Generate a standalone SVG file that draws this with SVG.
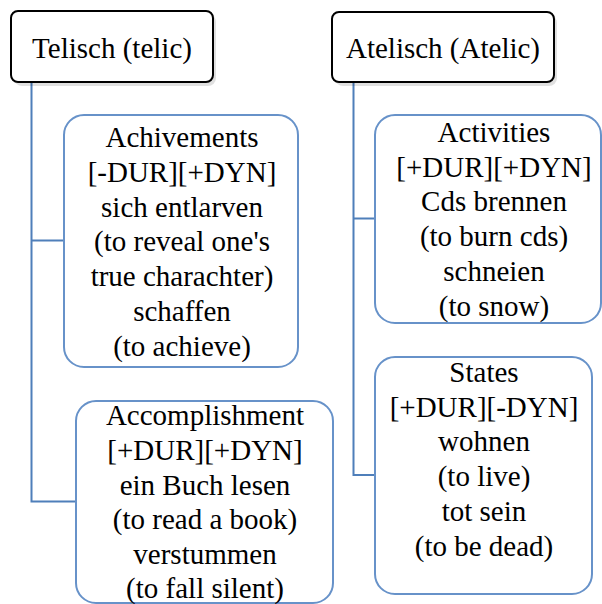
<svg xmlns="http://www.w3.org/2000/svg" width="602" height="604" viewBox="0 0 602 604">
<defs>
<style>
.hdr{fill:#fff;stroke:#000;stroke-width:2}
.box{fill:#fff;stroke:#6792c9;stroke-width:2}
.conn{fill:none;stroke:#4f7fba;stroke-width:2}
.shd{fill:#000;fill-opacity:0.12}
</style>
</defs>
<rect width="602" height="604" fill="#fff"/>
<g id="connectors">
<polyline class="conn" points="31.5,82 31.5,501.5 76,501.5"/>
<line class="conn" x1="31.5" y1="240.5" x2="64" y2="240.5"/>
<polyline class="conn" points="353.5,82 353.5,475 375,475"/>
<line class="conn" x1="353.5" y1="218.5" x2="375" y2="218.5"/>
</g>
<g id="telic">
<rect class="shd" x="14" y="14" width="202" height="72" rx="8"/>
<rect class="hdr" x="11" y="11" width="202" height="71" rx="7"/>
<text style="font-family:'Liberation Serif',serif;font-size:29px" font-family="Liberation Serif" font-size="29" text-anchor="middle" x="112" y="58">Telisch (telic)</text>
</g>
<g id="atelic">
<rect class="shd" x="335" y="15" width="222" height="71" rx="8"/>
<rect class="hdr" x="332" y="12" width="222" height="70" rx="7"/>
<text style="font-family:'Liberation Serif',serif;font-size:29px" font-family="Liberation Serif" font-size="29" text-anchor="middle" x="443" y="58">Atelisch (Atelic)</text>
</g>
<g id="achievements">
<rect class="box" x="64" y="115" width="234" height="252" rx="20"/>
<text style="font-family:'Liberation Serif',serif;font-size:29px" font-family="Liberation Serif" font-size="29" text-anchor="middle" x="182" y="147">Achivements</text>
<text style="font-family:'Liberation Serif',serif;font-size:29px" font-family="Liberation Serif" font-size="29" text-anchor="middle" x="182" y="182">[-DUR][+DYN]</text>
<text style="font-family:'Liberation Serif',serif;font-size:29px" font-family="Liberation Serif" font-size="29" text-anchor="middle" x="182" y="217">sich entlarven</text>
<text style="font-family:'Liberation Serif',serif;font-size:29px" font-family="Liberation Serif" font-size="29" text-anchor="middle" x="182" y="251">(to reveal one's</text>
<text style="font-family:'Liberation Serif',serif;font-size:29px" font-family="Liberation Serif" font-size="29" text-anchor="middle" x="182" y="286">true charachter)</text>
<text style="font-family:'Liberation Serif',serif;font-size:29px" font-family="Liberation Serif" font-size="29" text-anchor="middle" x="182" y="321">schaffen</text>
<text style="font-family:'Liberation Serif',serif;font-size:29px" font-family="Liberation Serif" font-size="29" text-anchor="middle" x="182" y="356">(to achieve)</text>
</g>
<g id="accomplishment">
<rect class="box" x="76" y="401" width="257" height="202" rx="20"/>
<text style="font-family:'Liberation Serif',serif;font-size:29px" font-family="Liberation Serif" font-size="29" text-anchor="middle" x="205" y="425">Accomplishment</text>
<text style="font-family:'Liberation Serif',serif;font-size:29px" font-family="Liberation Serif" font-size="29" text-anchor="middle" x="205" y="460">[+DUR][+DYN]</text>
<text style="font-family:'Liberation Serif',serif;font-size:29px" font-family="Liberation Serif" font-size="29" text-anchor="middle" x="205" y="495">ein Buch lesen</text>
<text style="font-family:'Liberation Serif',serif;font-size:29px" font-family="Liberation Serif" font-size="29" text-anchor="middle" x="205" y="529">(to read a book)</text>
<text style="font-family:'Liberation Serif',serif;font-size:29px" font-family="Liberation Serif" font-size="29" text-anchor="middle" x="205" y="564">verstummen</text>
<text style="font-family:'Liberation Serif',serif;font-size:29px" font-family="Liberation Serif" font-size="29" text-anchor="middle" x="205" y="598">(to fall silent)</text>
</g>
<g id="activities">
<rect class="box" x="375" y="115" width="226" height="208" rx="20"/>
<text style="font-family:'Liberation Serif',serif;font-size:29px" font-family="Liberation Serif" font-size="29" text-anchor="middle" x="494" y="142">Activities</text>
<text style="font-family:'Liberation Serif',serif;font-size:29px" font-family="Liberation Serif" font-size="29" text-anchor="middle" x="494" y="177">[+DUR][+DYN]</text>
<text style="font-family:'Liberation Serif',serif;font-size:29px" font-family="Liberation Serif" font-size="29" text-anchor="middle" x="494" y="211">Cds brennen</text>
<text style="font-family:'Liberation Serif',serif;font-size:29px" font-family="Liberation Serif" font-size="29" text-anchor="middle" x="494" y="246">(to burn cds)</text>
<text style="font-family:'Liberation Serif',serif;font-size:29px" font-family="Liberation Serif" font-size="29" text-anchor="middle" x="494" y="281">schneien</text>
<text style="font-family:'Liberation Serif',serif;font-size:29px" font-family="Liberation Serif" font-size="29" text-anchor="middle" x="494" y="316">(to snow)</text>
</g>
<g id="states">
<rect class="box" x="375" y="357" width="217" height="237" rx="20"/>
<text style="font-family:'Liberation Serif',serif;font-size:29px" font-family="Liberation Serif" font-size="29" text-anchor="middle" x="484" y="382">States</text>
<text style="font-family:'Liberation Serif',serif;font-size:29px" font-family="Liberation Serif" font-size="29" text-anchor="middle" x="484" y="417">[+DUR][-DYN]</text>
<text style="font-family:'Liberation Serif',serif;font-size:29px" font-family="Liberation Serif" font-size="29" text-anchor="middle" x="484" y="451">wohnen</text>
<text style="font-family:'Liberation Serif',serif;font-size:29px" font-family="Liberation Serif" font-size="29" text-anchor="middle" x="484" y="486">(to live)</text>
<text style="font-family:'Liberation Serif',serif;font-size:29px" font-family="Liberation Serif" font-size="29" text-anchor="middle" x="484" y="521">tot sein</text>
<text style="font-family:'Liberation Serif',serif;font-size:29px" font-family="Liberation Serif" font-size="29" text-anchor="middle" x="484" y="556">(to be dead)</text>
</g>
</svg>
